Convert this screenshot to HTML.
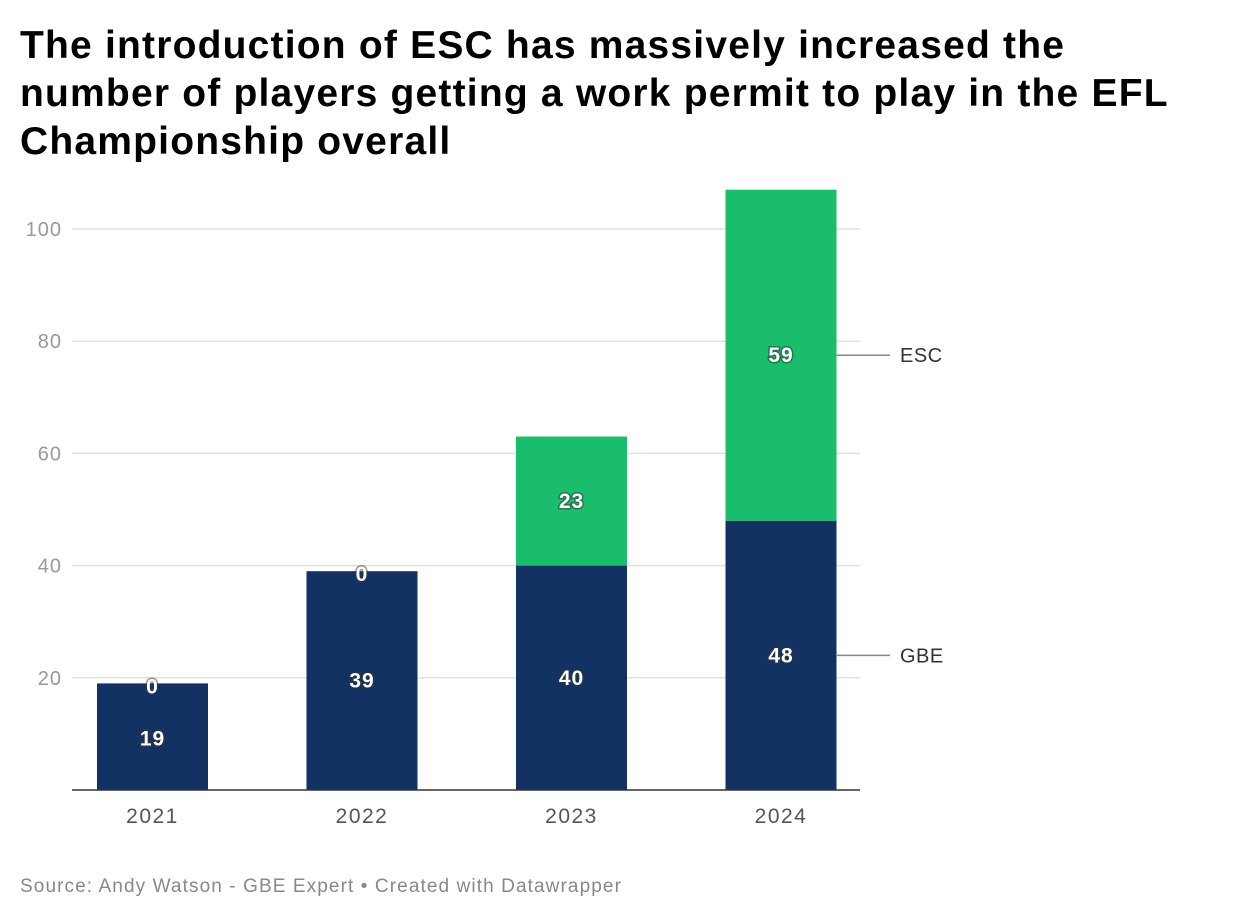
<!DOCTYPE html>
<html><head><meta charset="utf-8">
<style>
body{margin:0;background:#fff;width:1240px;height:922px;overflow:hidden;font-family:"Liberation Sans",Arial,sans-serif;}
h1{position:absolute;left:20px;top:22px;margin:0;font-size:39px;line-height:48px;font-weight:bold;color:#000;width:1220px;letter-spacing:1.2px;white-space:nowrap}
#src{position:absolute;left:20px;top:876px;font-size:19px;color:#888;letter-spacing:1.1px;white-space:nowrap}
</style></head><body>
<h1>The introduction of ESC has massively increased the<br>number of players getting a work permit to play in the EFL<br>Championship overall</h1>
<svg id="chart" width="1240" height="922" style="position:absolute;left:0;top:0"></svg>
<div id="src">Source: Andy Watson - GBE Expert • Created with Datawrapper</div>
<script>
const categories=["2021","2022","2023","2024"];
const gbe=[19,39,40,48];
const esc=[0,0,23,59];
const ticks=[20,40,60,80,100];
const svg=document.getElementById('chart');
const NS='http://www.w3.org/2000/svg';
const y0=790,scale=5.61;
const y=v=>y0-v*scale;
const x=i=>97+i*209.5;
const bw=111;
function mk(t,a,txt){const e=document.createElementNS(NS,t);for(const k in a)e.setAttribute(k,a[k]);if(txt!==undefined)e.textContent=txt;svg.appendChild(e);return e;}
ticks.forEach(t=>{
 const l=mk('line',{x1:72,x2:860,y1:y(t),y2:y(t),stroke:'#e0e0e0','stroke-width':1.5});
 
 
 const tx=mk('text',{x:62,y:y(t)+7,'text-anchor':'end','font-size':20,fill:'#999','letter-spacing':1},t);
 
 
});
function lab(cx,cy,v,name){
 const t=mk('text',{x:cx,y:cy+7,'text-anchor':'middle','font-size':21,'font-weight':'bold',fill:'#fff',stroke:'#333','stroke-width':3,'paint-order':'stroke','stroke-opacity':0.5,'letter-spacing':1},v);
 
 
}
categories.forEach((c,i)=>{
 const b=mk('rect',{x:x(i),y:y(gbe[i]),width:bw,height:gbe[i]*scale,fill:'#133264'});
 
 
 const e=mk('rect',{x:x(i),y:y(gbe[i]+esc[i]),width:bw,height:esc[i]*scale,fill:'#19bd6b'});
 
 
 lab(x(i)+bw/2,gbe[i]<25?y(gbe[i]/2)+2:y(gbe[i]/2),gbe[i],'label-gbe-'+c);
 lab(x(i)+bw/2,esc[i]===0?y(gbe[i])+3:y(gbe[i]+esc[i]/2),esc[i],'label-esc-'+c);
 const t=mk('text',{x:x(i)+bw/2,y:823,'text-anchor':'middle','font-size':21,fill:'#555','letter-spacing':1.5},c);
 
 
});
const ax=mk('line',{x1:72,x2:860,y1:y0,y2:y0,stroke:'#333','stroke-width':1.5});


const last=categories.length-1;
[['ESC',y(gbe[last]+esc[last]/2)],['GBE',y(gbe[last]/2)]].forEach(([n,yy])=>{
 const l=mk('line',{x1:836,x2:890,y1:yy,y2:yy,stroke:'#888','stroke-width':1.5});
 
 
 const t=mk('text',{x:900,y:yy+7,'font-size':20,fill:'#333','letter-spacing':0.5},n);
 
 
});
</script>
</body></html>
